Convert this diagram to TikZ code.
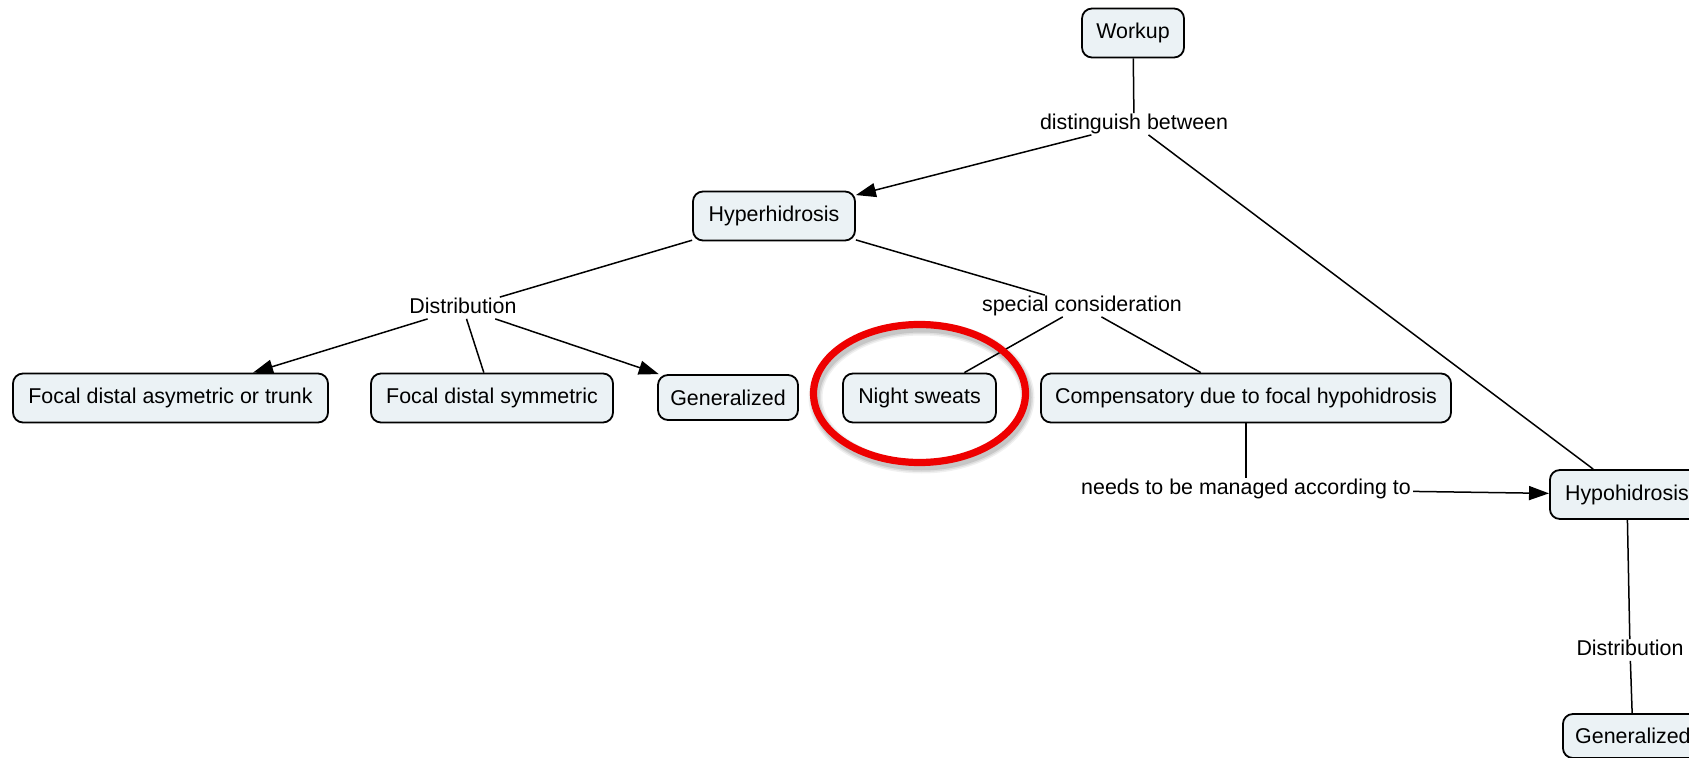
\documentclass[tikz,border=0pt]{standalone}
\usepackage{fontspec}
\setmainfont{Liberation Sans}
\usetikzlibrary{arrows.meta}
\definecolor{conceptfill}{RGB}{235,242,245}
\definecolor{ringred}{RGB}{238,0,0}
\begin{document}
\begin{tikzpicture}[x=0.5pt,y=-0.5pt,
  font=\fontsize{10.7pt}{12pt}\selectfont,
  concept/.style={draw, line width=0.9pt, rounded corners=5pt, fill=conceptfill,
    inner sep=0pt, minimum height=24.5pt},
  linking/.style={inner xsep=1pt, inner ysep=0pt, text height=8pt, text depth=2.5pt},
  link/.style={line width=0.75pt},
  arrowlink/.style={link, -{Triangle[length=10pt,width=7pt]}}]

\fill[white] (0,0) rectangle (1689,758);
\useasboundingbox (0,0) rectangle (1689,758);
\clip (0,0) rectangle (1689,758);

% concepts
\node[concept, minimum width=51pt] (workup) at (1133,33) {Workup};
\node[concept, minimum width=81pt] (hyper) at (774,216) {Hyperhidrosis};
\node[concept, minimum width=157.5pt] (fda) at (170.5,398) {Focal distal asymetric or trunk};
\node[concept, minimum width=121pt] (fds) at (492,398) {Focal distal symmetric};
\node[concept, minimum width=70pt, minimum height=22.5pt] (genL) at (728,397.5) {Generalized};
\node[concept, minimum width=76.5pt] (night) at (919.5,398) {Night sweats};
\node[concept, minimum width=205pt] (comp) at (1246,398) {Compensatory due to focal hypohidrosis};
\node[concept, minimum width=77pt, anchor=west] (hypo) at (1549,494.5) {Hypohidrosis};
\node[concept, minimum width=70pt, minimum height=22pt, anchor=west] (genR) at (1562,736) {Generalized};

% linking phrases
\node[linking] (distinguish) at (1134,124) {distinguish between};
\node[linking] (distL) at (463,308) {Distribution};
\node[linking] (special) at (1082,306) {special consideration};
\node[linking] (managed) at (1246,489) {needs to be managed according to};
\node[linking] (distR) at (1630,650) {Distribution};

% connections
\draw[link] (workup) -- (distinguish);
\draw[arrowlink] (distinguish) -- (hyper);
\draw[link] (distinguish) -- (hypo);
\draw[link] (hyper) -- (distL);
\draw[link] (hyper) -- (special);
\draw[arrowlink] (distL) -- (fda);
\draw[link] (distL) -- (fds);
\draw[arrowlink] (distL) -- (genL);
\draw[link] (special) -- (night);
\draw[link] (special) -- (comp);
\draw[link] (comp) -- (managed);
\draw[arrowlink] (managed) -- (hypo);
\draw[link] (hypo) -- (distR);
\draw[link] (distR) -- (genR);

% highlight ring with soft shadow
\foreach \w/\o in {7pt/0.06, 5.5pt/0.08, 4pt/0.10}
  \draw[black, opacity=\o, line width=\w] (921.5,397.5) ellipse [x radius=53pt, y radius=34.5pt];
\draw[ringred, line width=3.6pt] (919.5,393.5) ellipse [x radius=53pt, y radius=34.5pt];
\end{tikzpicture}
\end{document}
